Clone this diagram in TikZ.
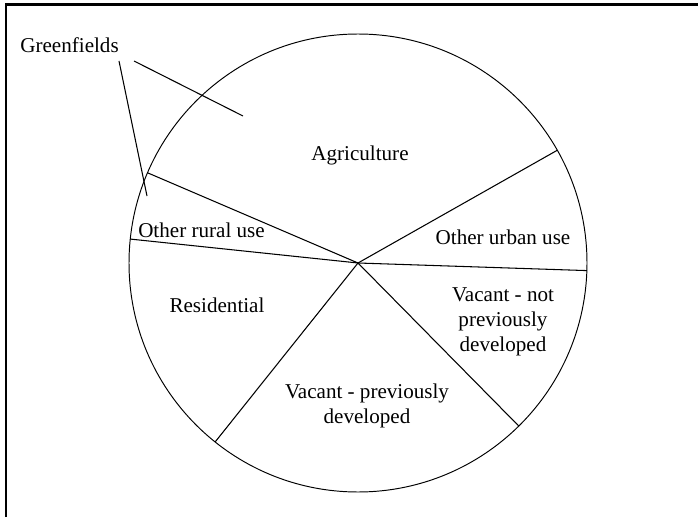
\documentclass[tikz,border=0pt]{standalone}
\usepackage{fontspec}
\setmainfont{Liberation Serif}
\begin{document}
\begin{tikzpicture}[x=0.2mm,y=0.2mm,font=\fontsize{12}{14.2}\selectfont]
\useasboundingbox (0,0) rectangle (698,517);
\draw[line width=1.5pt] (6,0) -- (6,512.5) -- (698,512.5);
\coordinate (c) at (358,254);
\draw[line width=0.55pt] (c) circle[radius=229];
\foreach \a in {29.5,-1.9,-45.4,-128.6,174,156.8}
  \draw[line width=0.6pt] (c) -- ++(\a:229);
\node (agri) at (360,362) {Agriculture};
\node (urban) at (503,280) {Other\ urban\ use};
\node (rural) at (201.5,287) {Other\ rural\ use};
\node (resid) at (217,212) {Residential};
\node[align=center] (vprev) at (367,111) {Vacant\ -\ previously\\developed};
\node[align=center] (vnot) at (503,195) {Vacant\ -\ not\\previously\\developed};
\node[anchor=base west,inner sep=0pt] (green) at (20,464) {Greenfields};
\coordinate (g1) at (134,456);
\coordinate (g2) at (119,456);
\coordinate (agrit) at (243,401);
\coordinate (ruralt) at (147,321);
\draw[line width=0.6pt] (g1) -- (agrit);
\draw[line width=0.6pt] (g2) -- (ruralt);
\end{tikzpicture}
\end{document}
